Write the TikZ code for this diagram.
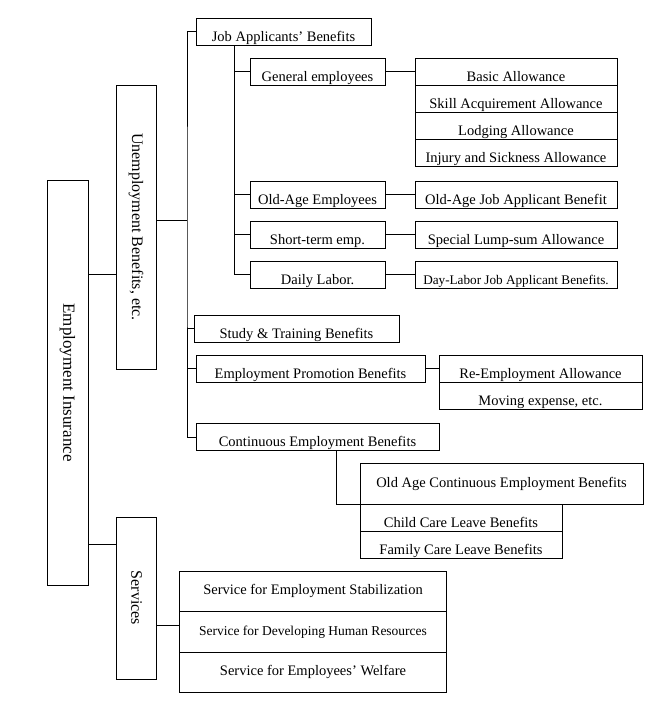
\documentclass[tikz,border=0pt]{standalone}
\usepackage{fontspec}
\setmainfont{Liberation Serif}
\usepackage{graphicx}
\usetikzlibrary{positioning}

\begin{document}
\begin{tikzpicture}[
    x=1pt, y=-1pt,
    node distance=0pt,
    every node/.style={inner sep=0pt, outer sep=0pt},
    cell/.style={draw, line width=0.8pt, minimum height=27pt,
                 text height=19pt, text depth=0pt,
                 font=\fontsize{14.5}{16}\selectfont},
    tallcell/.style={draw, line width=0.8pt, minimum height=40.5pt,
                     font=\fontsize{14.5}{16}\selectfont},
    tower/.style={draw, line width=0.8pt, font=\fontsize{16}{18}\selectfont},
    link/.style={line width=0.8pt},
  ]
    \useasboundingbox (0,0) rectangle (666,712);

    \node[tower, minimum width=41pt, minimum height=405pt, font=\fontsize{17}{19}\selectfont] (ins) at (67.5,382.5)
      {\rotatebox{-90}{Employment Insurance}};
    \node[tower, minimum width=40pt, minimum height=284pt] (unemp) at (136,227)
      {\rotatebox{-90}{Unemployment Benefits, etc.}};
    \node[tower, minimum width=40pt, minimum height=162pt] (serv) at (136.5,598)
      {\rotatebox{-90}{Services}};

    \node[cell, anchor=north west, minimum width=175pt] (jab) at (196,18) {Job Applicants' Benefits};
    \node[cell, anchor=north west, minimum width=135pt] (gen) at (250,58) {General employees};
    \node[cell, anchor=north west, minimum width=135pt] (old) at (250,181) {Old-Age Employees};
    \node[cell, anchor=north west, minimum width=135pt] (short) at (250,221) {Short-term emp.};
    \node[cell, anchor=north west, minimum width=135pt] (daily) at (250,261) {Daily Labor.};

    \node[cell, anchor=north west, minimum width=202pt] (basic) at (415,58) {Basic Allowance};
    \node[cell, below=of basic, minimum width=202pt] (skill) {Skill Acquirement Allowance};
    \node[cell, below=of skill, minimum width=202pt] (lodge) {Lodging Allowance};
    \node[cell, below=of lodge, minimum width=202pt] (injury) {Injury and Sickness Allowance};
    \node[cell, anchor=north west, minimum width=202pt] (oajab) at (415,181) {Old-Age Job Applicant Benefit};
    \node[cell, anchor=north west, minimum width=202pt] (lump) at (415,221) {Special Lump-sum Allowance};
    \node[cell, anchor=north west, minimum width=202pt, font=\fontsize{13.2}{15}\selectfont] (dljab) at (415,261)
      {Day-Labor Job Applicant Benefits.};

    \node[cell, anchor=north west, minimum width=205pt] (study) at (194,315) {Study \& Training Benefits};
    \node[cell, anchor=north west, minimum width=229pt] (promo) at (196,355) {Employment Promotion Benefits};
    \node[cell, anchor=north west, minimum width=203pt] (reemp) at (439,355) {Re-Employment Allowance};
    \node[cell, below=of reemp, minimum width=203pt] (moving) {Moving expense, etc.};
    \node[cell, anchor=north west, minimum width=243pt] (cont) at (196,423.5) {Continuous Employment Benefits};
    \node[tallcell, anchor=north west, minimum width=283pt] (oldcont) at (360,463.5)
      {Old Age Continuous Employment Benefits};
    \node[cell, anchor=north west, minimum width=202pt] (child) at (oldcont.south west) {Child Care Leave Benefits};
    \node[cell, below=of child, minimum width=202pt] (family) {Family Care Leave Benefits};

    \node[tallcell, anchor=north west, minimum width=267pt] (stab) at (179.5,571) {Service for Employment Stabilization};
    \node[tallcell, below=of stab, minimum width=267pt, font=\fontsize{13.5}{15}\selectfont] (develop)
      {Service for Developing Human Resources};
    \node[tallcell, below=of develop, minimum width=267pt] (welfare) {Service for Employees' Welfare};

    \draw[link] (ins.east |- 0,274) -- (unemp.west |- 0,274);
    \draw[link] (ins.east |- 0,544) -- (serv.west |- 0,544);
    \coordinate (bus) at (187,220);
    \draw[link] (unemp.east |- bus) -- (bus);
    \draw[link] (jab.west) -| (bus) |- (cont.west);
    \draw[link] (bus |- study.west) -- (study.west);
    \draw[link] (bus |- promo.west) -- (promo.west);
    \coordinate (jbus) at ([xshift=38pt]jab.south west);
    \draw[link] (jbus) |- (daily.west);
    \foreach \n in {gen, old, short}
      \draw[link] (jbus |- \n.west) -- (\n.west);
    \draw[link] (gen.east) -- (basic.west);
    \draw[link] (old.east) -- (oajab.west);
    \draw[link] (short.east) -- (lump.west);
    \draw[link] (daily.east) -- (dljab.west);
    \draw[link] (promo.east) -- (reemp.west);
    \draw[link] ([xshift=140pt]cont.south west) |- (oldcont.south west);
    \draw[link] (serv.east |- 0,625) -- (develop.west |- 0,625);
  \end{tikzpicture}
\end{document}
